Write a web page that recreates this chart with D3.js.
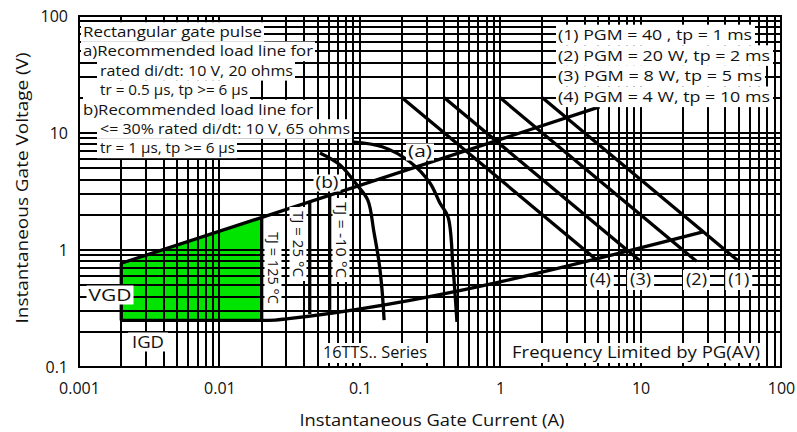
<!DOCTYPE html>
<html><head><meta charset="utf-8">
<script src="https://cdn.jsdelivr.net/npm/d3@7"></script>
<style>body{margin:0;background:#fff} text{font-family:"Open Sans",sans-serif;fill:#111}</style>
</head><body><svg id="c" width="797" height="432"></svg>
<script>
// ---------- data ----------
const xTicks = [0.001, 0.01, 0.1, 1, 10, 100];
const xTickLabels = ["0.001", "0.01", "0.1", "1", "10", "100"];
const yTicks = [0.1, 1, 10, 100];
const yTickLabels = ["0.1", "1", "10", "100"];

const gateRegion = [[0.002, 0.25], [0.002, 0.77], [0.02, 1.91], [0.02, 0.25]];
const loadLine = [[0.002, 0.77], [5.1, 16.7]];
const lowerLine = [[0.002, 0.25], [0.02, 0.25], [0.025, 0.252], [0.03, 0.258], [27.8, 1.43]];
const tj125 = [[0.02, 1.91], [0.02, 0.25]];
const tj25 = [[0.044, 2.58], [0.044, 0.284]];
const tjm10 = [[0.061, 2.94], [0.061, 0.308]];
const curveA = [[0.088, 8.38], [0.146, 7.59], [0.228, 5.65], [0.316, 3.74], [0.372, 2.52], [0.425, 1.91], [0.461, 0.716], [0.492, 0.243]];
const curveB = [[0.052, 6.75], [0.0723, 5.33], [0.0955, 3.59], [0.114, 2.67], [0.126, 1.43], [0.137, 0.789], [0.144, 0.455], [0.149, 0.252]];
const pgm1 = [[2, 20], [50, 0.8]];
const pgm2 = [[1, 20], [25, 0.8]];
const pgm3 = [[0.4, 20], [10, 0.8]];
const pgm4 = [[0.2, 20], [5, 0.8]];
const pgmLabels = ["(1)", "(2)", "(3)", "(4)"];

const noteLines = ["Rectangular gate pulse", "a)Recommended load line for", "rated di/dt: 10 V, 20 ohms",
  "tr = 0.5 µs, tp >= 6 µs", "b)Recommended load line for", "<= 30% rated di/dt: 10 V, 65 ohms", "tr = 1 µs, tp >= 6 µs"];
const legendLines = ["(1) PGM = 40 , tp = 1 ms", "(2) PGM = 20 W, tp = 2 ms", "(3) PGM = 8 W, tp = 5 ms", "(4) PGM = 4 W, tp = 10 ms"];

// ---------- layout ----------
const svg = d3.select("#c");
const L = 79, R = 781, T = 16, B = 367;
const x = d3.scaleLog().domain([0.001, 100]).range([L, R]);
const y = d3.scaleLog().domain([0.1, 100]).range([B, T]);
const line = d3.line().x(d => x(d[0])).y(d => y(d[1]));

// green region
svg.append("path").attr("d", line(gateRegion) + "Z").attr("fill", "#00e400");

// grid (snapped to whole pixels for crisp 2px lines)
const g = svg.append("g").attr("stroke", "#000").attr("stroke-width", 2);
x.ticks().forEach(v => { const p = Math.round(x(v)); g.append("line").attr("x1", p).attr("x2", p).attr("y1", T).attr("y2", B); });
y.ticks().forEach(v => { const p = Math.round(y(v)); g.append("line").attr("y1", p).attr("y2", p).attr("x1", L).attr("x2", R); });
svg.append("rect").attr("x", L).attr("y", T).attr("width", R - L).attr("height", B - T)
  .attr("fill", "none").attr("stroke", "#000").attr("stroke-width", 2);

// curves
const thick = (d, c) => svg.append("path").attr("d", (c ? line.curve(c) : line.curve(d3.curveLinear))(d))
  .attr("fill", "none").attr("stroke", "#000").attr("stroke-width", 3.3).attr("stroke-linejoin", "round");
thick(gateRegion.slice(0, 2));
thick(loadLine);
thick(lowerLine, d3.curveMonotoneX);
thick(tj125); thick(tj25); thick(tjm10);
thick(curveA, d3.curveCatmullRom);
thick(curveB, d3.curveCatmullRom);
[pgm1, pgm2, pgm3, pgm4].forEach(p => thick(p));
line.curve(d3.curveLinear);

// labels with white boxes
function label(txt, cx, cy, opts) {
  opts = opts || {};
  const fs = opts.fs || 15;
  const grp = svg.append("g");
  if (opts.rot) grp.attr("transform", `translate(${cx},${cy}) rotate(${opts.rot})`);
  else grp.attr("transform", `translate(${cx},${cy})`);
  const anchor = opts.anchor || "start";
  const t = grp.append("text").text(txt).attr("font-size", fs).attr("dy", "0.35em").attr("text-anchor", anchor);
  if (opts.w) t.attr("textLength", opts.w).attr("lengthAdjust", "spacingAndGlyphs");
  const w = opts.w || t.node().getComputedTextLength();
  const x0 = anchor === "middle" ? -w / 2 : anchor === "end" ? -w : 0;
  if (opts.box !== false) {
    const padL = opts.padL == null ? 2 : opts.padL, padR = opts.padR == null ? 2 : opts.padR;
    const h = opts.h || 19;
    grp.insert("rect", "text").attr("x", x0 - padL).attr("y", -h / 2).attr("width", w + padL + padR).attr("height", h).attr("fill", "#fff");
  }
  return t;
}

// notes (top-left)
const noteX = [83, 83, 100, 100, 83, 100, 100];
const noteW = [179, 230, 193, 148, 230, 250, 135];
const notePadL = [2, 2, 3, 17, 2, 3, 3];
noteLines.forEach((s, i) => label(s, noteX[i], 32 + i * 19.4, {w: noteW[i], padL: notePadL[i], h: 19.6, fs: 14.2}));

// legend (top-right)
const legW = [194, 212, 204, 212];
legendLines.forEach((s, i) => label(s, 558, 35 + i * 20.6, {w: legW[i], h: 20.6, padR: 3, fs: 15}));

// power line labels
[pgm1, pgm2, pgm3, pgm4].forEach((p, i) => label(pgmLabels[i], x(p[1][0]) + (i === 3 ? 2 : 0), 280, {anchor: "middle", w: 21, h: 20, padL: 3, padR: 3, fs: 15.5}));

label("(a)", 420, 152, {anchor: "middle", w: 24, h: 17, fs: 15.5});
label("(b)", 327, 183, {anchor: "middle", w: 23, h: 17, fs: 15.5});
label("VGD", 110, 295, {anchor: "middle", w: 43, fs: 16.5, h: 19});
label("IGD", 148, 342, {anchor: "middle", w: 32, fs: 16.5, h: 19, padL: 4, padR: 4});
label("TJ = 125 °C", 273, 268, {anchor: "middle", rot: 90, w: 72, fs: 14, h: 17, padL: 4, padR: 4});
label("TJ = 25 °C", 298, 244, {anchor: "middle", rot: 90, w: 66, fs: 14, h: 17, padL: 4, padR: 4});
label("TJ = -10 °C", 341, 240, {anchor: "middle", rot: 90, w: 76, fs: 14, h: 17, padL: 4, padR: 4});
label("16TTS.. Series", 323, 353, {w: 104, h: 20, fs: 15.5});
label("Frequency Limited by PG(AV)", 512, 353, {w: 248, h: 20, fs: 15.5});

// axes
const xAxis = d3.axisBottom(x).tickValues(xTicks).tickSize(0).tickPadding(16)
  .tickFormat((d, i) => xTickLabels[i]);
const xa = svg.append("g").attr("transform", `translate(0,${B})`).call(xAxis);
xa.select(".domain").remove();
xa.selectAll("text").attr("font-size", 16).attr("font-family", "Open Sans").attr("fill", "#111");
const yAxis = d3.axisLeft(y).tickValues(yTicks).tickSize(0).tickPadding(11)
  .tickFormat((d, i) => yTickLabels[i]);
const ya = svg.append("g").attr("transform", `translate(${L},0)`).call(yAxis);
ya.select(".domain").remove();
ya.selectAll("text").attr("font-size", 16).attr("font-family", "Open Sans").attr("fill", "#111");

svg.append("text").text("Instantaneous Gate Current (A)").attr("x", 432).attr("y", 420)
  .attr("dy", "0.35em").attr("text-anchor", "middle").attr("font-size", 16)
  .attr("textLength", 265).attr("lengthAdjust", "spacingAndGlyphs");
svg.append("text").text("Instantaneous Gate Voltage (V)")
  .attr("transform", "translate(22,188) rotate(-90)")
  .attr("dy", "0.35em").attr("text-anchor", "middle").attr("font-size", 16)
  .attr("textLength", 271).attr("lengthAdjust", "spacingAndGlyphs");
</script></body></html>
